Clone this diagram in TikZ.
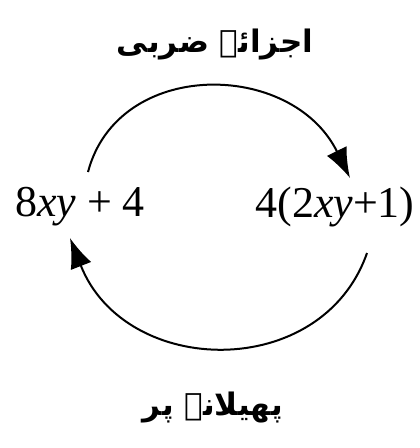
\documentclass[tikz,border=0pt]{standalone}
\usepackage{fontspec}
\setmainfont{Liberation Serif}
\newfontfamily\urdufont[Script=Arabic]{DejaVu Sans}
\TeXXeTstate=1
\usetikzlibrary{arrows.meta}
\begin{document}
\begin{tikzpicture}[x=1pt,y=1pt,
  expr/.style={font=\fontsize{44}{50}\selectfont, inner sep=0pt, anchor=center},
  urdu/.style={font=\urdufont\bfseries\fontsize{31}{37}\selectfont, inner sep=0pt, anchor=center},
  arc/.style={line width=2pt, -{Latex[length=30pt,width=22pt]}}]
\useasboundingbox (0,0) rectangle (420,-448);
\node[urdu] (top) at (215,-45) {\beginR اجزائے ضربی\endR};
\node[urdu] (bot) at (213,-408) {\beginR پھیلانے پر\endR};
\node[expr] (left) at (80,-207) {8\textit{xy} + 4};
\node[expr] (right) at (335,-207) {4(2\textit{xy}+1)};
\coordinate (a1) at (88,-172);
\coordinate (a2) at (350,-178);
\coordinate (b1) at (367,-253);
\coordinate (b2) at (70,-238);
\draw[arc] (a1) .. controls (118,-58) and (292,-60) .. (a2);
\draw[arc] (b1) .. controls (322,-382) and (125,-378) .. (b2);
\end{tikzpicture}
\end{document}
